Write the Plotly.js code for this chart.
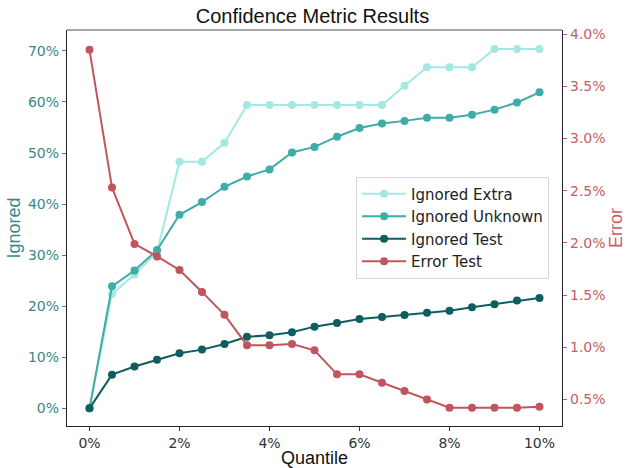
<!DOCTYPE html>
<html>
<head>
<meta charset="utf-8">
<script src="https://cdn.plot.ly/plotly-3.0.1.min.js"></script>
<style>
  html, body { margin: 0; padding: 0; background: #fff; }
  #chart { width: 630px; height: 468px; }
</style>
</head>
<body>
<div id="chart"></div>
<script>
// Quantile thresholds (%)
const quantile = [0, 0.5, 1, 1.5, 2, 2.5, 3, 3.5, 4, 4.5, 5, 5.5, 6, 6.5, 7, 7.5, 8, 8.5, 9, 9.5, 10];

// Share of samples ignored (%)
const ignoredExtra = [0, 22.4, 26.2, 30.6, 48.3, 48.3, 52.0, 59.4, 59.4, 59.4, 59.4, 59.4, 59.4, 59.4, 63.2, 66.8, 66.8, 66.8, 70.4, 70.4, 70.4];
const ignoredUnknown = [0, 23.9, 27.0, 31.0, 37.9, 40.4, 43.4, 45.4, 46.8, 50.1, 51.2, 53.2, 54.9, 55.8, 56.3, 56.9, 56.9, 57.5, 58.5, 59.9, 61.9];
const ignoredTest = [0, 6.6, 8.2, 9.5, 10.8, 11.5, 12.6, 14.0, 14.3, 14.9, 16.0, 16.7, 17.5, 17.9, 18.3, 18.7, 19.1, 19.8, 20.4, 21.1, 21.6];

// Error rate on the remaining test samples (%)
const errorTest = [3.85, 2.53, 1.99, 1.87, 1.74, 1.53, 1.31, 1.02, 1.02, 1.03, 0.97, 0.74, 0.74, 0.66, 0.58, 0.50, 0.42, 0.42, 0.42, 0.42, 0.43];

const xTicks = [0, 2, 4, 6, 8, 10];
const leftTicks = [0, 10, 20, 30, 40, 50, 60, 70];
const rightTicks = [0.5, 1.0, 1.5, 2.0, 2.5, 3.0, 3.5, 4.0];

const colExtra = '#a3e9e1';
const colUnknown = '#3eaca7';
const colTest = '#0f5d5f';
const colError = '#c2545d';
const leftText = '#3a8886';
const rightText = '#c75d66';

function series(name, y, color, axis) {
  return {
    x: quantile, y: y, name: name, type: 'scatter', mode: 'lines+markers',
    yaxis: axis,
    line: { color: color, width: 2 },
    marker: { color: color, size: 8 },
    hoverinfo: 'skip'
  };
}

const data = [
  series('Ignored Extra', ignoredExtra, colExtra, 'y'),
  series('Ignored Unknown', ignoredUnknown, colUnknown, 'y'),
  series('Ignored Test', ignoredTest, colTest, 'y'),
  series('Error Test', errorTest, colError, 'y2')
];

const tickFont = { family: 'DejaVu Sans', size: 14 };
const titleFamily = 'Liberation Sans, Arial';

const layout = {
  width: 630, height: 468,
  margin: { l: 67, r: 68, t: 30, b: 42 },
  paper_bgcolor: '#fff', plot_bgcolor: '#fff',
  showlegend: true,
  title: {
    text: 'Confidence Metric Results',
    font: { family: titleFamily, size: 20, color: '#111' },
    x: 0.496, xanchor: 'center', y: 0.966, yanchor: 'middle'
  },
  xaxis: {
    range: [-0.5, 10.5], tickmode: 'array', tickvals: xTicks,
    ticktext: xTicks.map(v => v + '%'),
    showgrid: false, zeroline: false,
    showline: true, linecolor: '#222', linewidth: 1.2,
    ticks: 'outside', ticklen: 4, tickcolor: '#333',
    tickfont: Object.assign({ color: '#333' }, tickFont),
    title: { text: 'Quantile', font: { family: titleFamily, size: 18, color: '#111' }, standoff: 3 }
  },
  yaxis: {
    range: [-3.46, 74.1], tickmode: 'array', tickvals: leftTicks,
    ticktext: leftTicks.map(v => v + '%'),
    showgrid: false, zeroline: false,
    showline: true, linecolor: '#222', linewidth: 1.2,
    ticks: 'outside', ticklen: 4, tickcolor: leftText,
    tickfont: Object.assign({ color: leftText }, tickFont),
    title: { text: 'Ignored', font: { family: titleFamily, size: 18, color: leftText }, standoff: 2 }
  },
  yaxis2: {
    overlaying: 'y', side: 'right',
    range: [0.245, 4.04], tickmode: 'array', tickvals: rightTicks,
    ticktext: rightTicks.map(v => v.toFixed(1) + '%'),
    showgrid: false, zeroline: false,
    showline: true, linecolor: '#222', linewidth: 1.2,
    ticks: 'outside', ticklen: 4, tickcolor: rightText,
    tickfont: Object.assign({ color: rightText }, tickFont),
    title: { text: 'Error', font: { family: titleFamily, size: 18, color: rightText }, standoff: 4 }
  },
  legend: {
    x: 0.584, y: 0.63, xanchor: 'left', yanchor: 'top',
    bgcolor: 'rgba(255,255,255,0.85)', bordercolor: '#d6d6d6', borderwidth: 1,
    font: { family: 'DejaVu Sans', size: 15, color: '#222' },
    itemwidth: 44, tracegroupgap: 0
  },
  shapes: [
    // top spine
    { type: 'line', xref: 'paper', yref: 'paper', x0: 0, x1: 1, y0: 1, y1: 1,
      line: { color: '#888', width: 1.5 } }
  ]
};

Plotly.newPlot('chart', data, layout, { displayModeBar: false, staticPlot: true });
</script>
</body>
</html>
